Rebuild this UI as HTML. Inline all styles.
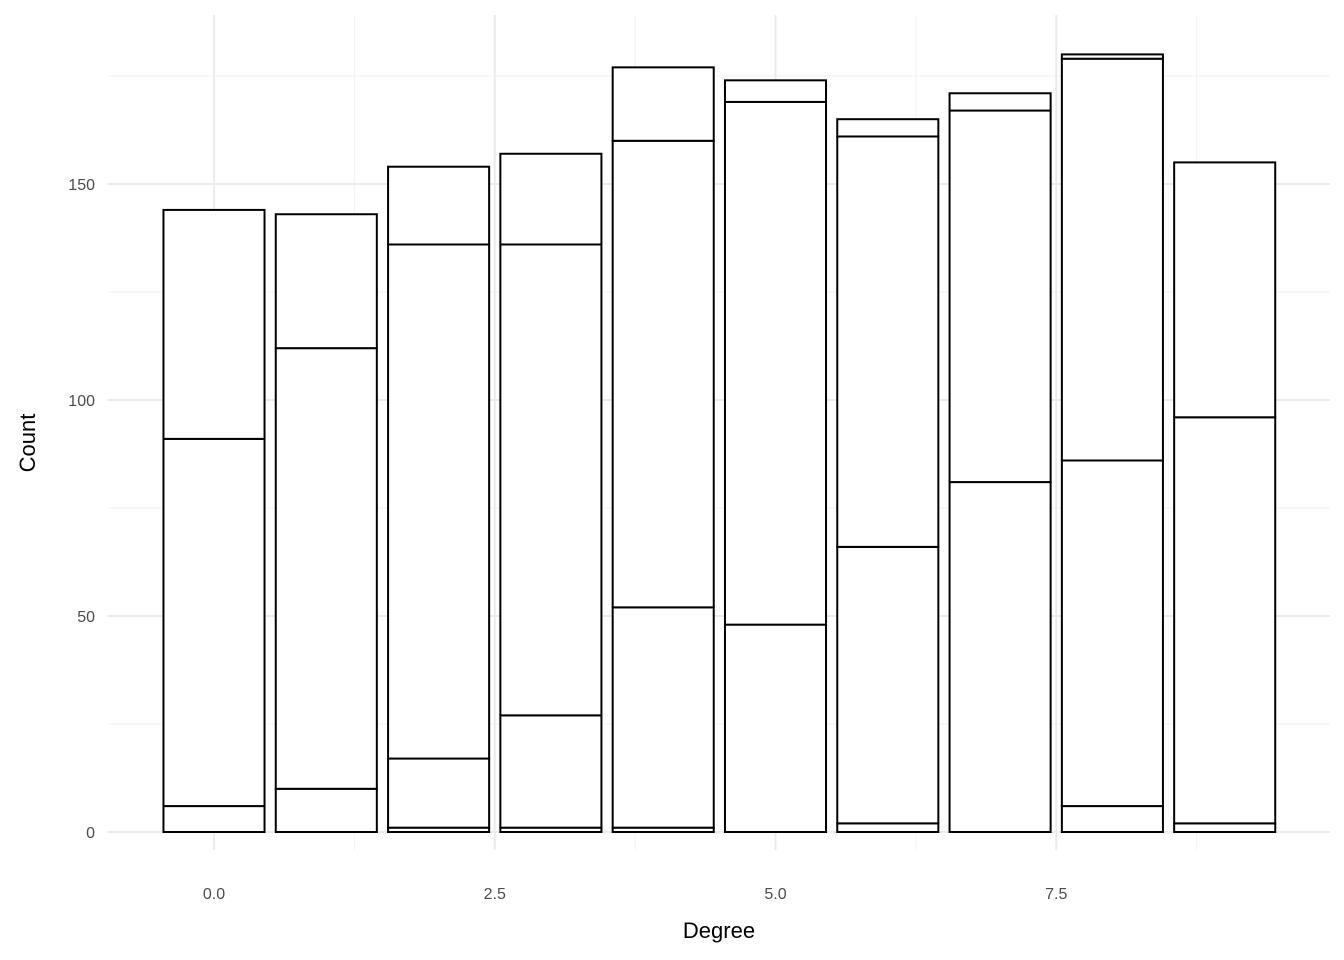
<!DOCTYPE html>
<html><head><meta charset="utf-8"><style>
body{margin:0;background:#fff}
svg{display:block;font-family:"Liberation Sans","DejaVu Sans",sans-serif}
</style></head><body>
<svg id="chart" width="1344" height="960"></svg>
<script>
const categories=[0,1,2,3,4,5,6,7,8,9];
const segments=[[6,85,53],[10,102,31],[1,16,119,18],[1,26,109,21],[1,51,108,17],[48,121,5],[2,64,95,4],[81,86,4],[6,80,93,1],[2,94,59]];
const yTicks=[0,50,100,150];
const yMinor=[25,75,125,175];
const xTicks=[0,2.5,5,7.5];
const xTickLabels=["0.0","2.5","5.0","7.5"];
const xMinor=[1.25,3.75,6.25,8.75];

const svg=document.getElementById('chart');
const NS='http://www.w3.org/2000/svg';
const X0=108,X1=1330,Y0=15,Y1=850;
const xs=v=>214+v*112.3;
const ys=v=>832-v*4.32;
function mk(t,a,p){const e=document.createElementNS(NS,t);for(const k in a)e.setAttribute(k,a[k]);(p||svg).appendChild(e);return e;}
const grid=mk('g',{});


yMinor.forEach(v=>mk('line',{x1:X0,x2:X1,y1:ys(v),y2:ys(v),stroke:'#f2f2f2','stroke-width':1},grid));
xMinor.forEach(v=>mk('line',{x1:xs(v),x2:xs(v),y1:Y0,y2:Y1,stroke:'#f2f2f2','stroke-width':1},grid));
yTicks.forEach(v=>mk('line',{x1:X0,x2:X1,y1:ys(v),y2:ys(v),stroke:'#ebebeb','stroke-width':2},grid));
xTicks.forEach(v=>mk('line',{x1:xs(v),x2:xs(v),y1:Y0,y2:Y1,stroke:'#ebebeb','stroke-width':2},grid));
yTicks.forEach(v=>{const t=mk('text',{x:95,y:ys(v)+6,'text-anchor':'end','font-size':16,fill:'#4d4d4d'});t.textContent=v;

});
xTicks.forEach((v,i)=>{const t=mk('text',{x:xs(v),y:899,'text-anchor':'middle','font-size':16,fill:'#4d4d4d'});t.textContent=xTickLabels[i];

});
const bars=mk('g',{});


categories.forEach((c,i)=>{let cum=0;segments[i].forEach((s,j)=>{
const r=mk('rect',{x:xs(c-0.45),width:xs(c+0.45)-xs(c-0.45),y:ys(cum+s),height:ys(cum)-ys(cum+s),fill:'#fff',stroke:'#000','stroke-width':2},bars);


cum+=s;});});
const xt=mk('text',{x:719,y:938,'text-anchor':'middle','font-size':22,fill:'#000'});xt.textContent='Degree';


const yt=mk('text',{x:0,y:0,'text-anchor':'middle','font-size':22,fill:'#000',transform:'translate(35,443) rotate(-90)'});yt.textContent='Count';


</script>
</body></html>
